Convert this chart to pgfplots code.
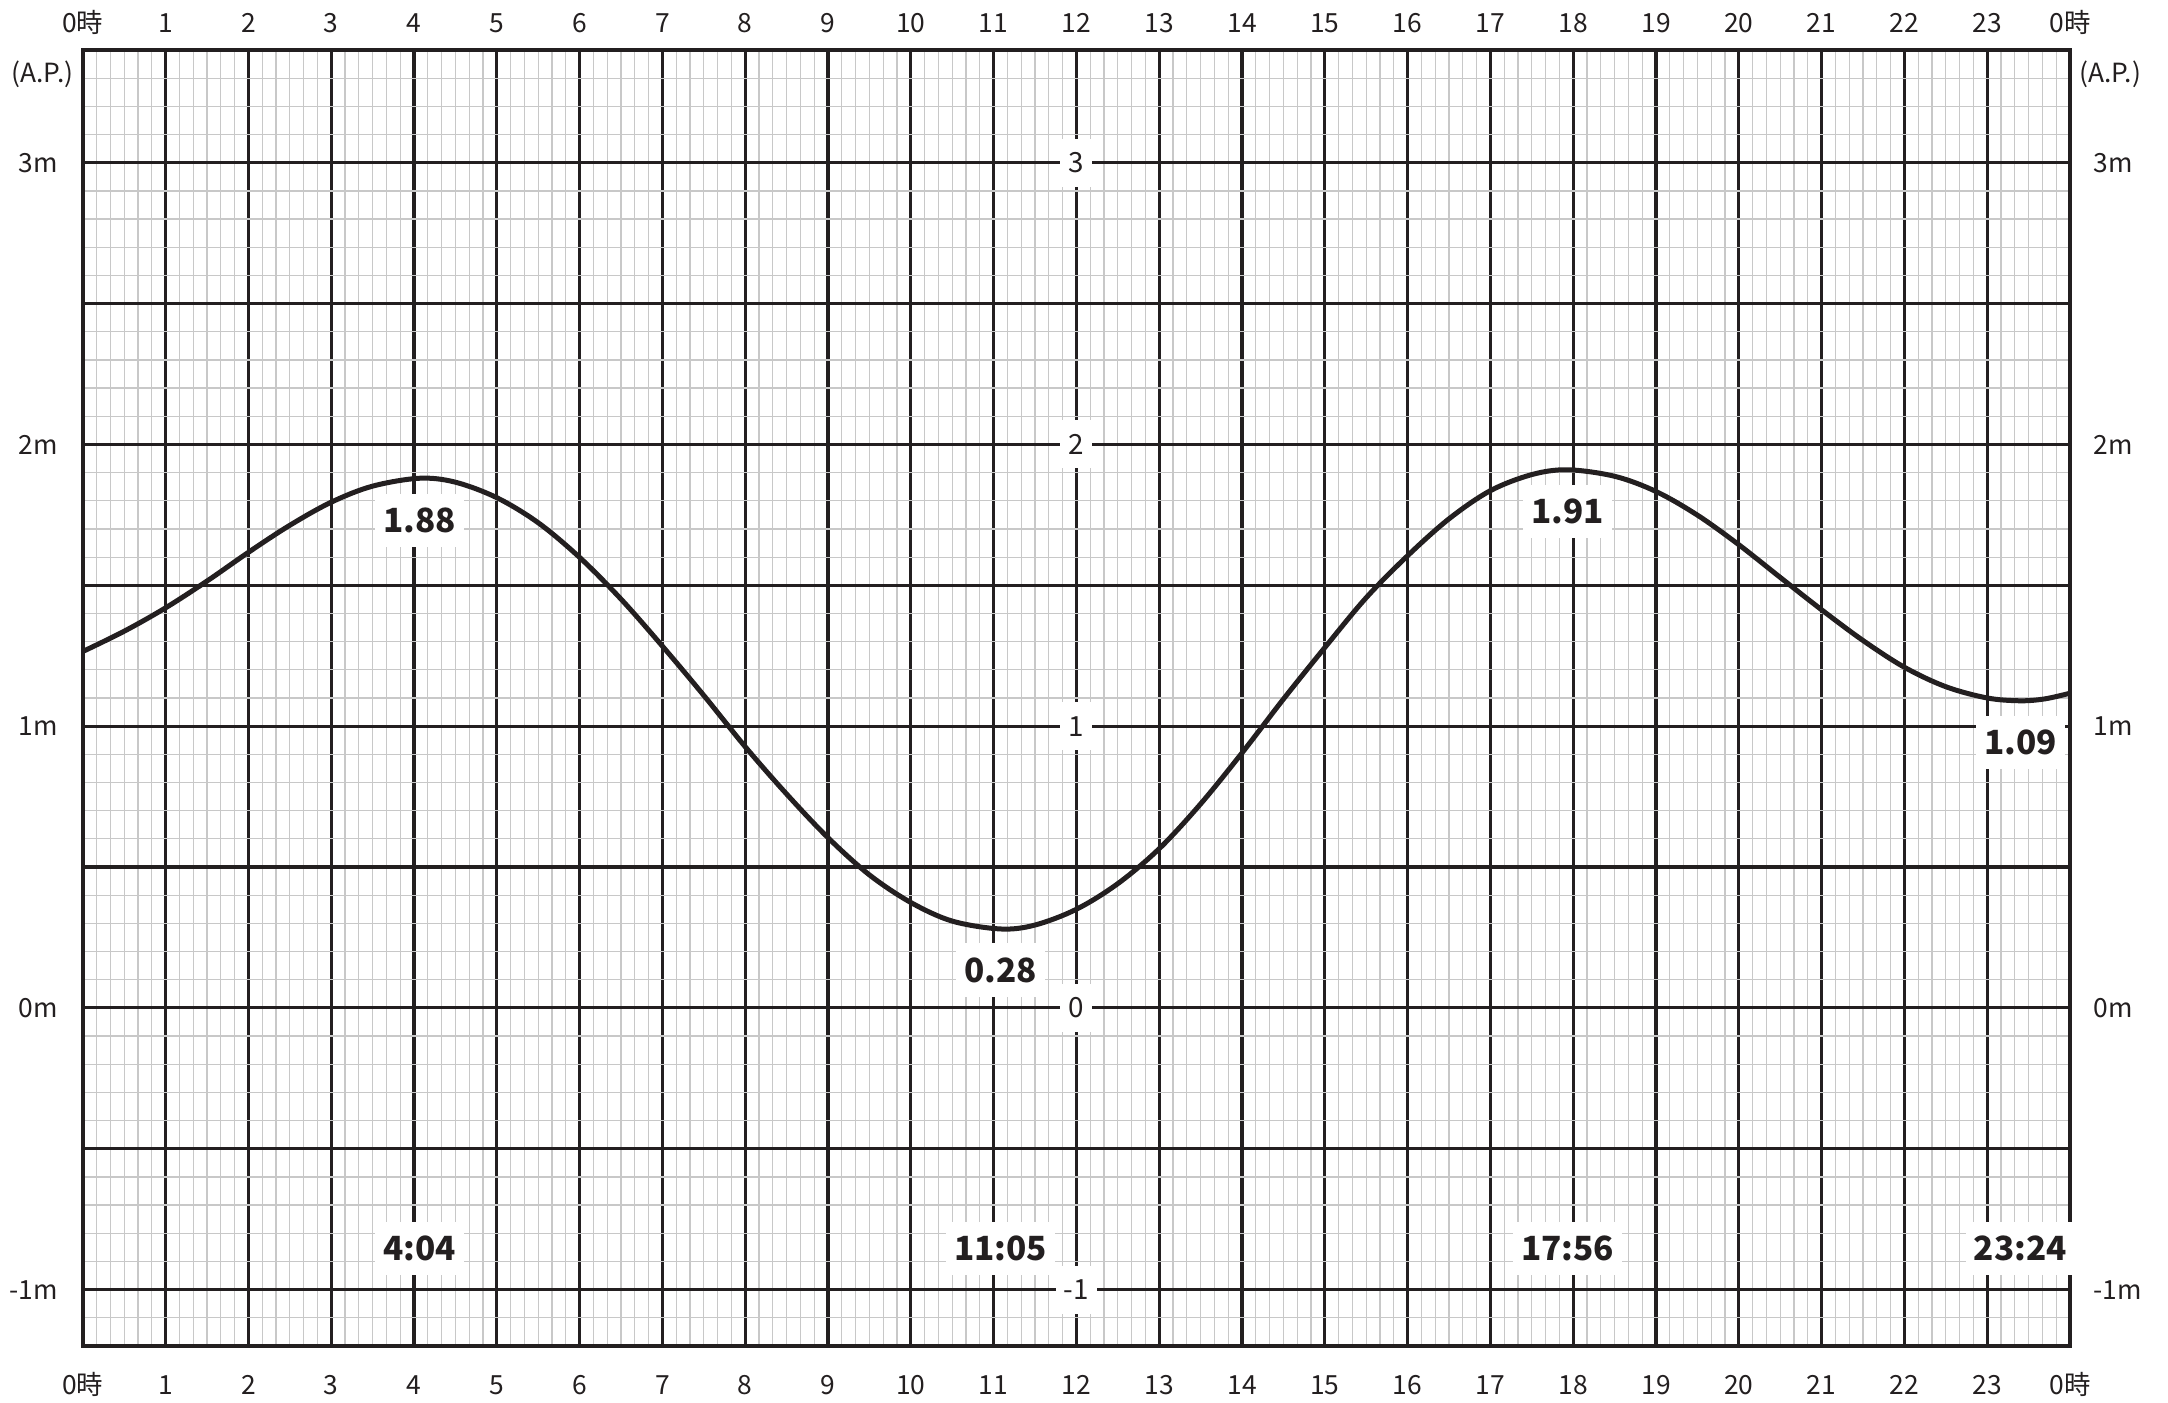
\documentclass[border=0pt]{standalone}
\usepackage{fontspec}
\setmainfont{Noto Sans CJK JP}
\usepackage{pgfplots}
\pgfplotsset{compat=1.18}
\definecolor{ink}{RGB}{35,31,32}
\definecolor{minorgrid}{RGB}{200,200,200}
\begin{document}
\begin{tikzpicture}
\pgfplotsset{
  tidecommon/.style={
    scale only axis, width=715.4pt, height=466.5pt,
    xmin=0, xmax=24, ymin=-1.2, ymax=3.4,
    xtick={0,1,...,24},
    xticklabels={0時,1,2,3,4,5,6,7,8,9,10,11,12,13,14,15,16,17,18,19,20,21,22,23,0時},
    ytick={-1,-0.5,0,0.5,1,1.5,2,2.5,3},
    yticklabels={-1m,,0m,,1m,,2m,,3m},
    major tick length=0pt, minor tick length=0pt,
    tick label style={font=\fontsize{9.5pt}{11pt}\selectfont, text=ink, inner sep=0pt, text height=6.9pt, text depth=0pt},
  }
}
\tikzset{
  scalelab/.style={fill=white, text=ink, font=\fontsize{10pt}{12pt}\selectfont, inner xsep=3pt, inner ysep=5pt, text height=7.3pt, text depth=0pt},
  vallab/.style={fill=white, text=ink, font=\fontsize{12pt}{14pt}\selectfont\bfseries, inner xsep=3pt, inner ysep=5.2pt, text height=8.8pt, text depth=0pt},
}
\begin{axis}[
  tidecommon,
  name=main,
  minor x tick num=5,
  minor ytick={-1.2,-1.1,...,3.35},
  grid=both,
  major grid style={ink, line width=1.1pt},
  minor grid style={minorgrid, line width=0.45pt},
  axis line style={ink, line width=1.4pt},
  tick style={draw=none},
  xticklabel style={anchor=center, yshift=-14pt},
  yticklabel style={anchor=east, xshift=-8.8pt},
  clip=false,
]
\addplot[ink, line width=1.8pt, smooth, tension=0.55] coordinates {
(0,1.265) (0.5,1.337) (1,1.420) (1.5,1.515) (2,1.617) (2.5,1.713) (3,1.795) (3.5,1.852)
(4.067,1.88) (4.5,1.866) (5,1.811) (5.5,1.722) (6,1.599) (6.5,1.451) (7,1.284) (7.5,1.109)
(8,0.927) (8.5,0.759) (9,0.604) (9.5,0.472) (10,0.374) (10.5,0.308) (11.083,0.28) (11.5,0.294)
(12,0.350) (12.5,0.441) (13,0.565) (13.5,0.724) (14,0.905) (14.5,1.096) (15,1.279) (15.5,1.456)
(16,1.605) (16.5,1.736) (17,1.836) (17.5,1.893) (17.933,1.91) (18.5,1.887) (19,1.833) (19.5,1.749)
(20,1.644) (20.5,1.528) (21,1.413) (21.5,1.304) (22,1.209) (22.5,1.140) (23,1.100) (23.4,1.09)
(23.7,1.097) (24,1.117)
};
% centre scale labels
\node[scalelab] at (axis cs:12,3) {3};
\node[scalelab] at (axis cs:12,2) {2};
\node[scalelab] at (axis cs:12,1) {1};
\node[scalelab] at (axis cs:12,0) {0};
\node[scalelab] at (axis cs:12,-1) {-1};
% value labels
\node[vallab] at (axis cs:4.067,1.73) {1.88};
\node[vallab] at (axis cs:11.083,0.134) {0.28};
\node[vallab] at (axis cs:17.933,1.761) {1.91};
\node[vallab] at (axis cs:23.4,0.942) {1.09};
% time labels
\node[vallab] at (axis cs:4.067,-0.855) {4:04};
\node[vallab] at (axis cs:11.083,-0.855) {11:05};
\node[vallab] at (axis cs:17.933,-0.855) {17:56};
\node[vallab] at (axis cs:23.4,-0.855) {23:24};
\node[anchor=east, inner sep=0pt, text=ink, font=\fontsize{9.5pt}{11pt}\selectfont] at (axis cs:0,3.315) [xshift=-3.2pt] {(A.P.)};
\node[anchor=west, inner sep=0pt, text=ink, font=\fontsize{9.5pt}{11pt}\selectfont] at (axis cs:24,3.315) [xshift=3.1pt] {(A.P.)};
\path[draw=none] (rel axis cs:-0.04167,-0.04405) rectangle (rel axis cs:1.04932,1.03864);
\end{axis}
\begin{axis}[
  tidecommon,
  axis line style={draw=none},
  tick style={draw=none},
  xticklabel pos=right,
  yticklabel pos=right,
  xticklabel style={anchor=center, yshift=9.9pt},
  yticklabel style={anchor=west, xshift=8.2pt},
]
\end{axis}
\end{tikzpicture}
\end{document}
